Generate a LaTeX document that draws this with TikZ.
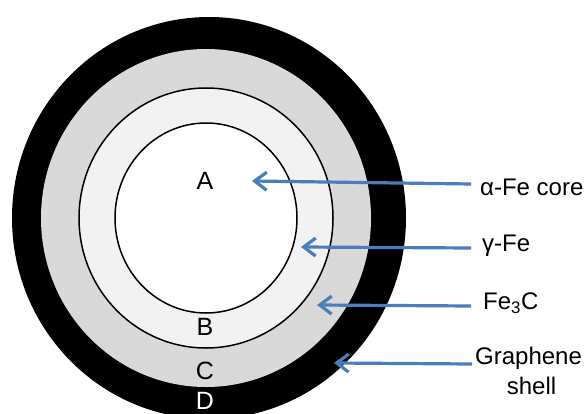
\documentclass[tikz,border=0pt]{standalone}
\usepackage{fontspec}
\setmainfont{Liberation Sans}
\usetikzlibrary{arrows.meta}
\definecolor{arrowblue}{HTML}{4A7EBB}
\definecolor{carbidegray}{HTML}{D9D9D9}
\definecolor{gammagray}{HTML}{F2F2F2}
\begin{document}
\begin{tikzpicture}[x=1pt,y=-1pt,
  layerletter/.style={font=\fontsize{25}{28}\selectfont, inner sep=0pt},
  sidelabel/.style={font=\fontsize{24}{30}\selectfont, anchor=west, inner sep=0pt, align=center},
  pointer/.style={draw=arrowblue, line width=3.2pt,
    -{Straight Barb[length=12pt,width=18pt,line width=3.2pt]}},
  ringline/.style={draw=black, line width=1.5pt}
]
\useasboundingbox (0,0) rectangle (588,414);
\clip (0,0) rectangle (588,414);

% concentric particle layers
\coordinate (c) at (206,218);
\coordinate (cs) at (209,218);
\fill[black] (cs) ellipse [x radius=197, y radius=201];
\fill[carbidegray] (c) ellipse [x radius=165, y radius=169];
\filldraw[fill=gammagray, ringline] (c) ellipse [x radius=127, y radius=130];
\filldraw[fill=white, ringline] (c) ellipse [x radius=91, y radius=95];

% layer letters
\node[layerletter] (la) at (205,181) {A};
\node[layerletter] (lb) at (205,327) {B};
\node[layerletter] (lc) at (205,371) {C};
\node[layerletter, text=white] (ld) at (205,401) {D};

% side labels
\node[sidelabel] (core) at (480,187) {α-Fe core};
\node[sidelabel] (gamma) at (482,246) {γ-Fe};
\node[sidelabel] (carb) at (483,303) {Fe\textsubscript{3}C};
\node[sidelabel, anchor=north west] (shell) at (475,347) {Graphene\\\hspace*{6pt}shell};

% arrow ends
\coordinate (s1) at (471,184);
\coordinate (t1) at (252,181);
\coordinate (s2) at (471,248);
\coordinate (t2) at (301,247);
\coordinate (s3) at (471,306);
\coordinate (t3) at (317,305);
\coordinate (s4) at (472,364);
\coordinate (t4) at (334,363);

\draw[pointer] (s1) -- (t1);
\draw[pointer] (s2) -- (t2);
\draw[pointer] (s3) -- (t3);
\draw[pointer] (s4) -- (t4);
\end{tikzpicture}
\end{document}
